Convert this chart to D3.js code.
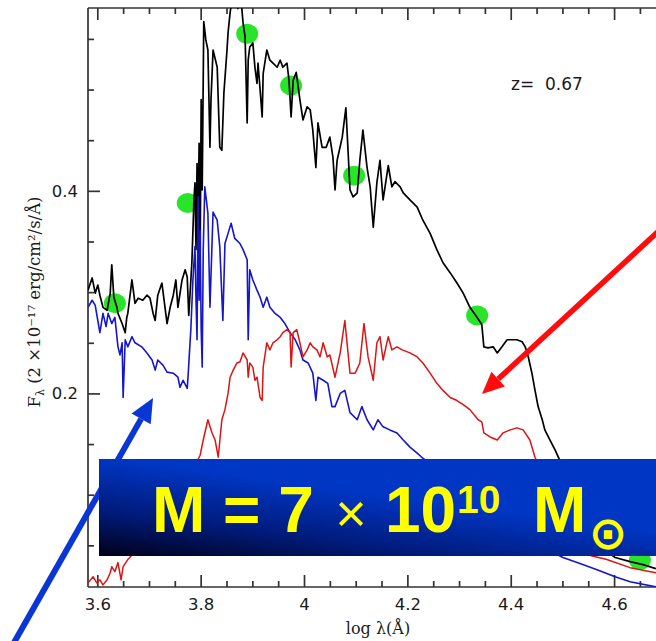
<!DOCTYPE html>
<html><head><meta charset="utf-8">
<script src="https://cdn.jsdelivr.net/npm/d3@7"></script>
<style>body{margin:0;background:#fff}svg{display:block}</style>
</head><body><svg id="c" width="656" height="641"></svg>
<script>
// ---- data (log lambda [A], F_lambda [2e-17 erg/cm2/s/A]) ----
const blackSpec = [[3.582,0.302],[3.590,0.314],[3.596,0.299],[3.601,0.307],[3.605,0.297],[3.611,0.285],[3.619,0.282],[3.625,0.299],[3.628,0.327],[3.632,0.295],
[3.638,0.285],[3.640,0.279],[3.648,0.269],[3.654,0.260],[3.657,0.275],[3.659,0.279],[3.667,0.312],[3.673,0.289],[3.679,0.294],[3.688,0.292],
[3.696,0.297],[3.702,0.294],[3.708,0.279],[3.712,0.272],[3.717,0.297],[3.725,0.309],[3.731,0.285],[3.735,0.269],[3.741,0.285],[3.747,0.297],
[3.752,0.312],[3.756,0.285],[3.764,0.312],[3.770,0.322],[3.774,0.315],[3.777,0.277],[3.783,0.329],[3.787,0.391],[3.789,0.408],[3.791,0.342],
[3.793,0.427],[3.795,0.361],[3.797,0.447],[3.799,0.332],[3.801,0.490],[3.803,0.401],[3.806,0.567],[3.810,0.549],[3.814,0.539],[3.818,0.443],
[3.820,0.490],[3.824,0.539],[3.832,0.522],[3.837,0.443],[3.841,0.440],[3.845,0.497],[3.851,0.539],[3.853,0.556],[3.857,0.576],[3.861,0.590],
[3.866,0.588],[3.872,0.580],[3.878,0.590],[3.882,0.566],[3.886,0.552],[3.890,0.467],[3.892,0.529],[3.895,0.542],[3.901,0.546],[3.905,0.522],
[3.909,0.506],[3.911,0.526],[3.915,0.500],[3.919,0.473],[3.921,0.516],[3.928,0.539],[3.934,0.529],[3.940,0.526],[3.948,0.522],[3.954,0.529],
[3.959,0.522],[3.967,0.526],[3.971,0.509],[3.975,0.473],[3.979,0.509],[3.985,0.517],[3.992,0.490],[3.998,0.470],[4.006,0.483],[4.012,0.480],
[4.017,0.460],[4.023,0.423],[4.027,0.467],[4.035,0.443],[4.043,0.443],[4.050,0.453],[4.056,0.433],[4.060,0.401],[4.064,0.430],[4.074,0.453],
[4.081,0.482],[4.089,0.401],[4.095,0.394],[4.103,0.398],[4.108,0.430],[4.114,0.460],[4.122,0.423],[4.128,0.404],[4.134,0.364],[4.141,0.408],
[4.147,0.430],[4.153,0.391],[4.163,0.425],[4.170,0.404],[4.176,0.409],[4.186,0.404],[4.192,0.398],[4.205,0.391],[4.219,0.384],[4.230,0.371],
[4.244,0.358],[4.257,0.342],[4.269,0.329],[4.283,0.319],[4.296,0.309],[4.308,0.299],[4.321,0.285],[4.335,0.275],[4.344,0.268],[4.348,0.246],
[4.356,0.245],[4.366,0.246],[4.374,0.240],[4.383,0.246],[4.393,0.253],[4.403,0.253],[4.412,0.253],[4.422,0.251],[4.428,0.246],[4.434,0.236],
[4.441,0.220],[4.447,0.203],[4.453,0.187],[4.461,0.174],[4.466,0.164],[4.476,0.154],[4.486,0.144],[4.495,0.134],[4.524,0.105],[4.554,0.075],
[4.583,0.045],[4.602,0.038],[4.631,0.034],[4.656,0.031],[4.681,0.027]];

const blueSpec = [[3.582,0.285],[3.590,0.292],[3.596,0.287],[3.601,0.272],[3.605,0.260],[3.611,0.279],[3.617,0.266],[3.621,0.279],[3.628,0.269],[3.634,0.275],
[3.640,0.246],[3.644,0.238],[3.648,0.250],[3.650,0.196],[3.654,0.253],[3.659,0.246],[3.667,0.256],[3.673,0.250],[3.686,0.246],[3.696,0.240],
[3.706,0.233],[3.712,0.223],[3.717,0.233],[3.727,0.228],[3.735,0.221],[3.747,0.220],[3.756,0.216],[3.760,0.206],[3.766,0.213],[3.774,0.205],
[3.776,0.220],[3.781,0.263],[3.785,0.312],[3.789,0.345],[3.791,0.292],[3.793,0.253],[3.795,0.394],[3.797,0.292],[3.799,0.361],[3.801,0.263],
[3.803,0.226],[3.805,0.342],[3.808,0.404],[3.814,0.378],[3.818,0.285],[3.824,0.379],[3.832,0.371],[3.837,0.345],[3.843,0.272],[3.847,0.348],
[3.853,0.358],[3.859,0.368],[3.866,0.353],[3.876,0.348],[3.882,0.342],[3.890,0.332],[3.892,0.253],[3.895,0.322],[3.901,0.312],[3.909,0.302],
[3.915,0.295],[3.921,0.285],[3.928,0.295],[3.934,0.285],[3.944,0.279],[3.954,0.275],[3.963,0.269],[3.973,0.260],[3.983,0.253],[3.992,0.243],
[3.998,0.233],[4.008,0.230],[4.017,0.220],[4.023,0.193],[4.027,0.216],[4.037,0.213],[4.046,0.210],[4.054,0.187],[4.060,0.187],[4.070,0.200],
[4.079,0.203],[4.089,0.181],[4.103,0.174],[4.112,0.187],[4.122,0.174],[4.134,0.164],[4.143,0.174],[4.153,0.167],[4.166,0.164],[4.180,0.161],
[4.192,0.154],[4.205,0.147],[4.219,0.141],[4.230,0.136],[4.283,0.115],[4.341,0.090],[4.399,0.070],[4.457,0.050],[4.501,0.038],[4.534,0.032],
[4.567,0.026],[4.602,0.019],[4.631,0.014],[4.681,0.009]];

const redSpec = [[3.582,0.013],[3.592,0.019],[3.599,0.013],[3.605,0.016],[3.611,0.011],[3.619,0.016],[3.625,0.023],[3.628,0.029],[3.634,0.024],[3.640,0.033],
[3.646,0.016],[3.650,0.029],[3.659,0.036],[3.663,0.038],[3.702,0.065],[3.741,0.095],[3.779,0.119],[3.799,0.139],[3.805,0.154],[3.814,0.174],
[3.822,0.161],[3.828,0.154],[3.834,0.137],[3.841,0.174],[3.847,0.184],[3.853,0.200],[3.857,0.216],[3.863,0.223],[3.870,0.230],[3.876,0.231],
[3.882,0.240],[3.890,0.233],[3.892,0.216],[3.895,0.230],[3.901,0.226],[3.905,0.213],[3.909,0.216],[3.915,0.196],[3.919,0.193],[3.921,0.226],
[3.928,0.250],[3.934,0.243],[3.940,0.250],[3.948,0.253],[3.954,0.256],[3.959,0.260],[3.967,0.263],[3.973,0.260],[3.975,0.226],[3.979,0.260],
[3.986,0.263],[3.992,0.250],[3.998,0.236],[4.006,0.243],[4.012,0.250],[4.017,0.246],[4.025,0.243],[4.031,0.236],[4.037,0.250],[4.045,0.236],
[4.050,0.238],[4.060,0.216],[4.070,0.240],[4.079,0.272],[4.089,0.220],[4.099,0.220],[4.108,0.230],[4.116,0.269],[4.124,0.236],[4.134,0.213],
[4.141,0.250],[4.147,0.256],[4.153,0.233],[4.163,0.256],[4.170,0.243],[4.180,0.246],[4.190,0.243],[4.205,0.240],[4.219,0.236],[4.230,0.230],
[4.244,0.220],[4.257,0.210],[4.269,0.203],[4.283,0.196],[4.296,0.193],[4.308,0.189],[4.321,0.184],[4.337,0.174],[4.344,0.172],[4.348,0.161],
[4.360,0.157],[4.374,0.154],[4.385,0.161],[4.399,0.164],[4.412,0.166],[4.424,0.164],[4.437,0.154],[4.447,0.137],[4.466,0.115],[4.495,0.085],
[4.524,0.055],[4.554,0.040],[4.586,0.036],[4.631,0.028],[4.681,0.023]];

const photX = [3.634, 3.775, 3.890, 3.975, 4.097, 4.335, 4.650];
const photY = [0.289, 0.388, 0.555, 0.504, 0.415, 0.277, 0.0355];

const xMajorTicks = [3.6, 3.8, 4.0, 4.2, 4.4, 4.6];
const xMajorLabels = ["3.6", "3.8", "4", "4.2", "4.4", "4.6"];
const xMinorTicks = [3.65, 3.7, 3.75, 3.85, 3.9, 3.95, 4.05, 4.1, 4.15, 4.25, 4.3, 4.35, 4.45, 4.5, 4.55, 4.65, 4.7];
const yMajorTicks = [0.2, 0.4];
const yMajorLabels = ["0.2", "0.4"];
const yMinorTicks = [0.05, 0.1, 0.15, 0.25, 0.3, 0.35, 0.45, 0.5, 0.55];
const redshiftLabel = "z=  0.67";
const xTitle = "log λ(Å)";

// ---- layout ----
const svg = d3.select("#c");
const L = 88, T = 8, B = 587, R = 691.6;
const x = d3.scaleLinear().domain([3.582, 4.75]).range([L, R]);
const y = d3.scaleLinear().domain([0.0089, 0.5805]).range([B, T]);
const axisCol = "#333";

// frame
svg.append("line").attr("x1", L).attr("x2", L).attr("y1", T).attr("y2", B).attr("stroke", axisCol).attr("stroke-width", 1.7);
svg.append("line").attr("x1", L).attr("x2", 700).attr("y1", B).attr("y2", B).attr("stroke", axisCol).attr("stroke-width", 1.7);
svg.append("line").attr("x1", L).attr("x2", 700).attr("y1", T).attr("y2", T).attr("stroke", axisCol).attr("stroke-width", 1.7);

function styleAxis(g) {
  g.select(".domain").remove();
  g.selectAll(".tick line").attr("stroke", axisCol).attr("stroke-width", 1.7);
  g.selectAll("text").attr("font-family", "DejaVu Sans, sans-serif").attr("font-size", 16.5).attr("fill", "#1a1a1a");
}
// bottom axis
svg.append("g").attr("transform", `translate(0,${B})`)
  .call(d3.axisBottom(x).tickValues(xMinorTicks).tickSize(-6).tickFormat(""))
  .call(styleAxis);
svg.append("g").attr("transform", `translate(0,${B})`)
  .call(d3.axisBottom(x).tickValues(xMajorTicks).tickSize(-12).tickPadding(11)
    .tickFormat((d, i) => xMajorLabels[i]))
  .call(styleAxis);
// top axis
svg.append("g").attr("transform", `translate(0,${T})`)
  .call(d3.axisTop(x).tickValues(xMinorTicks).tickSize(-6).tickFormat(""))
  .call(styleAxis);
svg.append("g").attr("transform", `translate(0,${T})`)
  .call(d3.axisTop(x).tickValues(xMajorTicks).tickSize(-12).tickFormat(""))
  .call(styleAxis);
// left axis
svg.append("g").attr("transform", `translate(${L},0)`)
  .call(d3.axisLeft(y).tickValues(yMinorTicks).tickSize(-6).tickFormat(""))
  .call(styleAxis);
svg.append("g").attr("transform", `translate(${L},0)`)
  .call(d3.axisLeft(y).tickValues(yMajorTicks).tickSize(-12).tickPadding(10)
    .tickFormat((d, i) => yMajorLabels[i]))
  .call(styleAxis);

// axis titles
svg.append("text").attr("x", 378).attr("y", 634).attr("text-anchor", "middle")
  .attr("font-family", "DejaVu Serif, serif").attr("font-size", 16).attr("fill", "#1a1a1a")
  .text(xTitle);
const yt = svg.append("text").attr("transform", "translate(40,302) rotate(-90)").attr("text-anchor", "middle")
  .attr("font-family", "DejaVu Serif, serif").attr("font-size", 16.5).attr("fill", "#1a1a1a");
yt.append("tspan").text("F");
yt.append("tspan").attr("font-size", 11).attr("dy", 4).text("λ");
yt.append("tspan").attr("dy", -4).text(" (2 ×10⁻¹⁷ erg/cm²/s/Å)");

// clip
svg.append("clipPath").attr("id", "pc").append("rect").attr("x", L).attr("y", T).attr("width", R - L).attr("height", B - T);
const plot = svg.append("g").attr("clip-path", "url(#pc)");

// photometry dots
plot.selectAll("ellipse.ph").data(photX).enter().append("ellipse")
  .attr("cx", d => x(d)).attr("cy", (d, i) => y(photY[i]))
  .attr("rx", 11).attr("ry", 10).attr("fill", "#2ae42a");

const line = d3.line().x(d => x(d[0])).y(d => y(d[1]));
plot.append("path").datum(blackSpec).attr("d", line).attr("fill", "none").attr("stroke", "#000").attr("stroke-width", 1.7).attr("stroke-linejoin", "round");
plot.append("path").datum(blueSpec).attr("d", line).attr("fill", "none").attr("stroke", "#1515cc").attr("stroke-width", 1.6).attr("stroke-linejoin", "round");
plot.append("path").datum(redSpec).attr("d", line).attr("fill", "none").attr("stroke", "#dd1414").attr("stroke-width", 1.5).attr("stroke-linejoin", "round");

// redshift label
svg.append("text").attr("x", 511).attr("y", 90).attr("font-family", "DejaVu Sans, sans-serif")
  .attr("font-size", 17).attr("fill", "#1a1a1a").attr("xml:space", "preserve").style("white-space", "pre").text(redshiftLabel);

// arrows
function arrow(tip, tail, color, w, hl, hw) {
  const dx = tail[0] - tip[0], dy = tail[1] - tip[1];
  const len = Math.hypot(dx, dy), ux = dx / len, uy = dy / len;
  const bx = tip[0] + ux * hl, by = tip[1] + uy * hl;
  svg.append("line").attr("x1", tail[0]).attr("y1", tail[1]).attr("x2", bx).attr("y2", by)
    .attr("stroke", color).attr("stroke-width", w);
  svg.append("polygon").attr("fill", color).attr("points",
    [[tip[0], tip[1]], [bx - uy * hw, by + ux * hw], [bx + uy * hw, by - ux * hw]].map(p => p.join(",")).join(" "));
}
arrow([153, 398], [3, 662], "#0a36d6", 6, 24, 11);

// mass box
const defs = svg.append("defs");
const gr = defs.append("linearGradient").attr("id", "bx").attr("gradientUnits", "userSpaceOnUse")
  .attr("x1", 99).attr("y1", 556).attr("x2", 112).attr("y2", 459);
gr.append("stop").attr("offset", 0).attr("stop-color", "#000018");
gr.append("stop").attr("offset", 0.45).attr("stop-color", "#001a78");
gr.append("stop").attr("offset", 1).attr("stop-color", "#0036c4");
svg.append("rect").attr("x", 99).attr("y", 459).attr("width", 600).attr("height", 97).attr("fill", "url(#bx)");

const yel = "#ffff00";
function t(xp, yp, s, size, weight, anchor, fam) {
  return svg.append("text").attr("x", xp).attr("y", yp).attr("font-family", fam || "Liberation Sans, Arial, sans-serif")
    .attr("font-size", size).attr("font-weight", weight).attr("fill", yel).attr("text-anchor", anchor || "start").text(s);
}
t(152, 532, "M = 7", 64, "bold");
t(351, 532, "×", 54, "normal", "middle");
t(385, 532, "10", 64, "bold");
t(457, 513, "10", 39, "bold");
t(533, 532, "M", 64, "bold");
t(608, 549, "⊙", 46, "bold", "middle", "DejaVu Sans, sans-serif");

arrow([482, 394], [700, 193], "#ff0d0d", 5.5, 22, 10);
</script></body></html>
